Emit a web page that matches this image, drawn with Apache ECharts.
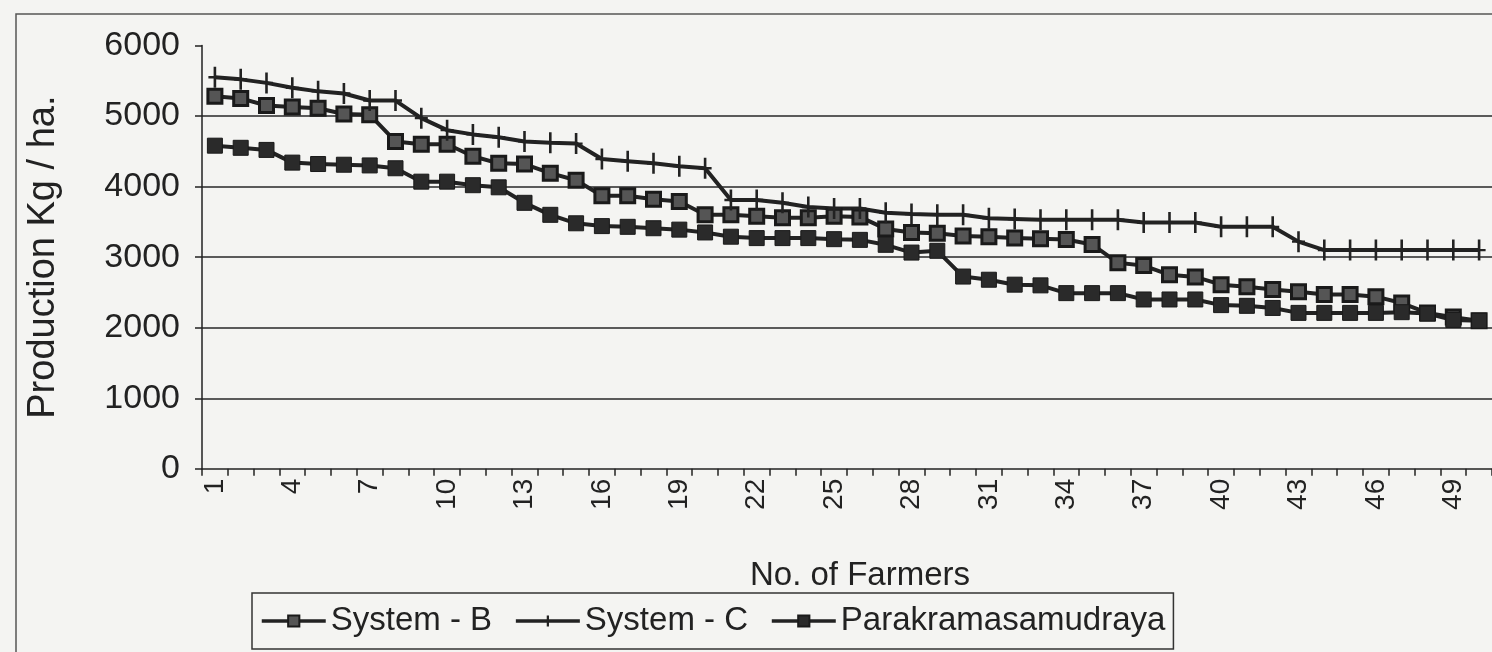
<!DOCTYPE html>
<html>
<head>
<meta charset="utf-8">
<script src="https://cdn.jsdelivr.net/npm/echarts@6/dist/echarts.min.js"></script>
<style>
html,body{margin:0;padding:0;background:#f4f4f2;}
#chart{width:1492px;height:652px;}
</style>
</head>
<body>
<div id="chart"></div>
<script>
const farmers = Array.from({length: 50}, (_, i) => String(i + 1));
const systemB = [5280,5250,5150,5130,5110,5030,5020,4640,4600,4600,
  4430,4330,4320,4190,4090,3870,3870,3820,3790,3600,
  3600,3580,3560,3560,3580,3570,3400,3350,3340,3300,
  3290,3270,3260,3250,3180,2920,2880,2750,2720,2610,
  2580,2540,2510,2470,2470,2440,2350,2210,2150,2100];
const systemC = [5550,5520,5470,5400,5350,5320,5220,5220,4970,4800,
  4740,4700,4640,4620,4610,4390,4360,4330,4290,4260,
  3810,3810,3770,3710,3690,3690,3630,3610,3600,3600,
  3550,3540,3530,3530,3530,3530,3490,3490,3490,3430,
  3430,3430,3220,3100,3100,3100,3100,3100,3100,3100];
const parakrama = [4580,4550,4520,4340,4320,4310,4300,4260,4070,4070,
  4020,3990,3770,3600,3480,3440,3430,3410,3390,3350,
  3290,3270,3270,3270,3255,3245,3175,3065,3090,2725,
  2680,2610,2600,2490,2490,2490,2400,2400,2400,2320,
  2310,2280,2210,2210,2210,2210,2220,2200,2110,2100];
const seriesNames = ['System - B', 'System - C', 'Parakramasamudraya'];

const FONT = 'Liberation Sans';
const INK = '#222222';
const plusPath = 'path://M4,0 L6,0 L6,8 L10,8 L10,10 L6,10 L6,18 L4,18 L4,10 L0,10 L0,8 L4,8 Z';

const chart = echarts.init(document.getElementById('chart'), null, {renderer: 'canvas'});
chart.setOption({
  backgroundColor: '#f4f4f2',
  animation: false,
  textStyle: {fontFamily: FONT, color: INK},
  graphic: [{
    type: 'rect', silent: true, z: -1,
    shape: {x: 16, y: 14, width: 1520, height: 700},
    style: {fill: 'none', stroke: '#555', lineWidth: 1.5}
  }],
  grid: {left: 202, top: 45.5, bottom: 183.2, right: -11.5, containLabel: false},
  legend: {
    data: seriesNames,
    left: 252, top: 593,
    orient: 'horizontal',
    borderColor: '#333', borderWidth: 1.5,
    padding: [8, 8, 8, 8],
    itemWidth: 64, itemHeight: 14, itemGap: 22,
    lineStyle: {width: 3.5, color: INK},
    textStyle: {fontFamily: FONT, fontSize: 33, lineHeight: 40, color: INK},
    backgroundColor: '#f4f4f2'
  },
  xAxis: {
    type: 'category',
    data: farmers,
    boundaryGap: true,
    name: 'No. of Farmers',
    nameLocation: 'middle',
    nameGap: 91,
    nameTextStyle: {fontFamily: FONT, fontSize: 33, color: INK, padding: [0, 0, 0, 26]},
    axisLine: {lineStyle: {color: INK, width: 1.5}},
    axisTick: {show: true, interval: 0, length: 7, lineStyle: {color: INK, width: 1.5}},
    axisLabel: {interval: 2, rotate: 90, fontSize: 28, color: INK, fontFamily: FONT, margin: 10},
    splitLine: {show: false}
  },
  yAxis: {
    type: 'value',
    min: 0, max: 6000, interval: 1000,
    name: 'Production Kg / ha.',
    nameLocation: 'middle',
    nameGap: 139,
    nameRotate: 90,
    nameTextStyle: {fontFamily: FONT, fontSize: 38, color: INK},
    axisLine: {show: true, lineStyle: {color: INK, width: 1.5}},
    axisTick: {show: true, length: 7, lineStyle: {color: INK, width: 1.5}},
    axisLabel: {fontSize: 34, color: INK, fontFamily: FONT, margin: 22, formatter: v => String(v)},
    splitLine: {show: true, showMinLine: false, showMaxLine: false, lineStyle: {color: '#5a5a5a', width: 2}}
  },
  series: [
    {
      name: seriesNames[0], type: 'line', data: systemB,
      symbol: 'rect', symbolSize: 14, showAllSymbol: true,
      lineStyle: {color: INK, width: 4},
      itemStyle: {color: '#555', borderColor: '#1a1a1a', borderWidth: 3}
    },
    {
      name: seriesNames[1], type: 'line', data: systemC,
      symbol: plusPath, symbolSize: [13, 21], showAllSymbol: true,
      lineStyle: {color: INK, width: 4},
      itemStyle: {color: INK, borderWidth: 0}
    },
    {
      name: seriesNames[2], type: 'line', data: parakrama,
      symbol: 'rect', symbolSize: 15, showAllSymbol: true,
      lineStyle: {color: INK, width: 4},
      itemStyle: {color: '#2a2a2a', borderColor: '#1a1a1a', borderWidth: 1}
    }
  ]
});
</script>
</body>
</html>
